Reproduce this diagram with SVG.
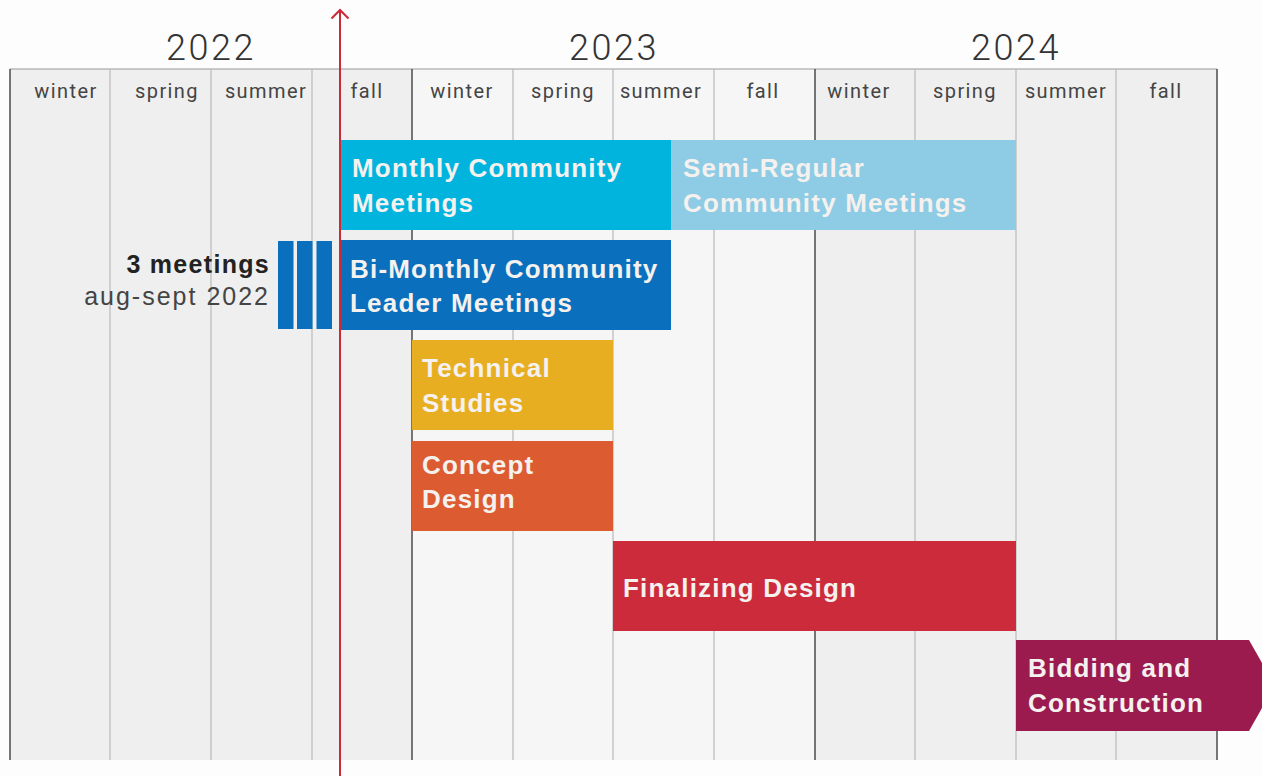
<svg xmlns="http://www.w3.org/2000/svg" width="1262" height="776" viewBox="0 0 1262 776">
<defs>
<style>
.year{font-family:Roboto,"Liberation Sans",sans-serif;font-weight:300;font-size:36px;fill:#333;text-anchor:middle;letter-spacing:2.5px}
.season{font-family:Roboto,"Liberation Sans",sans-serif;font-weight:400;font-size:20px;fill:#444;text-anchor:middle;letter-spacing:1.4px}
.lbl{font-family:"Liberation Sans",Arial,sans-serif;font-weight:700;font-size:26px;fill:#f4f1ee;letter-spacing:1.2px}
.colA{fill:#efefef}
.colB{fill:#f6f6f7}
.thin{stroke:#b9b9b9;stroke-width:1.2}
.thick{stroke:#555;stroke-width:1.6}
.note{font-family:"Liberation Sans",Arial,sans-serif;font-size:25px;text-anchor:end}
</style>
</defs>
<rect width="1262" height="776" fill="#fdfdfd"/>
<g id="grid">
<rect class="colA" x="10" y="69" width="402" height="691"/>
<rect class="colB" x="412" y="69" width="403" height="691"/>
<rect class="colA" x="815" y="69" width="402" height="691"/>
<line x1="10" y1="69" x2="1217" y2="69" stroke="#999" stroke-width="1.2"/>
<g class="thin">
<line x1="110" y1="69" x2="110" y2="760"/>
<line x1="211" y1="69" x2="211" y2="760"/>
<line x1="312" y1="69" x2="312" y2="760"/>
<line x1="513" y1="69" x2="513" y2="760"/>
<line x1="613" y1="69" x2="613" y2="760"/>
<line x1="714" y1="69" x2="714" y2="760"/>
<line x1="915" y1="69" x2="915" y2="760"/>
<line x1="1016" y1="69" x2="1016" y2="760"/>
<line x1="1116" y1="69" x2="1116" y2="760"/>
</g>
<g class="thick">
<line x1="10" y1="69" x2="10" y2="760"/>
<line x1="412" y1="69" x2="412" y2="760"/>
<line x1="815" y1="69" x2="815" y2="760"/>
<line x1="1217" y1="69" x2="1217" y2="760"/>
</g>
<text class="year" x="211" y="60">2022</text>
<text class="year" x="614" y="60">2023</text>
<text class="year" x="1016" y="60">2024</text>
<text class="season" x="66" y="98">winter</text>
<text class="season" x="167" y="98">spring</text>
<text class="season" x="266" y="98">summer</text>
<text class="season" x="367" y="98">fall</text>
<text class="season" x="462" y="98">winter</text>
<text class="season" x="563" y="98">spring</text>
<text class="season" x="661" y="98">summer</text>
<text class="season" x="763" y="98">fall</text>
<text class="season" x="859" y="98">winter</text>
<text class="season" x="965" y="98">spring</text>
<text class="season" x="1066" y="98">summer</text>
<text class="season" x="1166" y="98">fall</text>
</g>
<g id="monthly">
<rect x="340" y="140" width="331" height="90" fill="#00b4de"/>
<text class="lbl" x="352" y="177">Monthly Community</text>
<text class="lbl" x="352" y="212">Meetings</text>
</g>
<g id="semiregular">
<rect x="671" y="140" width="345" height="90" fill="#8ecbe4"/>
<text class="lbl" x="683" y="177">Semi-Regular</text>
<text class="lbl" x="683" y="212">Community Meetings</text>
</g>
<g id="three-meetings">
<rect x="278" y="241" width="15.5" height="88" fill="#0a6fbd"/>
<rect x="297" y="241" width="15.5" height="88" fill="#0a6fbd"/>
<rect x="316.5" y="241" width="15.5" height="88" fill="#0a6fbd"/>
<text class="note" x="270" y="273" font-weight="700" fill="#222" letter-spacing="1.3">3 meetings</text>
<text class="note" x="270" y="305" fill="#444" letter-spacing="2">aug-sept 2022</text>
</g>
<g id="bimonthly">
<rect x="340" y="240" width="331" height="90" fill="#0a6fbd"/>
<text class="lbl" x="350" y="278">Bi-Monthly Community</text>
<text class="lbl" x="350" y="312">Leader Meetings</text>
</g>
<g id="technical">
<rect x="412" y="340" width="201" height="90" fill="#e8ae22"/>
<text class="lbl" x="422" y="377">Technical</text>
<text class="lbl" x="422" y="412">Studies</text>
</g>
<g id="concept">
<rect x="412" y="441" width="201" height="90" fill="#dc5b31"/>
<text class="lbl" x="422" y="474">Concept</text>
<text class="lbl" x="422" y="508">Design</text>
</g>
<g id="finalizing">
<rect x="613" y="541" width="403" height="90" fill="#cc2b3b"/>
<text class="lbl" x="623" y="597" letter-spacing="0.9">Finalizing Design</text>
</g>
<g id="bidding">
<polygon points="1016,640 1249,640 1262,663 1262,708 1249,731 1016,731" fill="#9b1b4e"/>
<text class="lbl" x="1028" y="677">Bidding and</text>
<text class="lbl" x="1028" y="712">Construction</text>
</g>
<g id="connectors">
<line x1="340" y1="10" x2="340" y2="776" stroke="#cc2a38" stroke-width="2"/>
<polyline points="331.5,18.5 340,10 348.5,18.5" fill="none" stroke="#cc2a38" stroke-width="2"/>
</g>
</svg>
